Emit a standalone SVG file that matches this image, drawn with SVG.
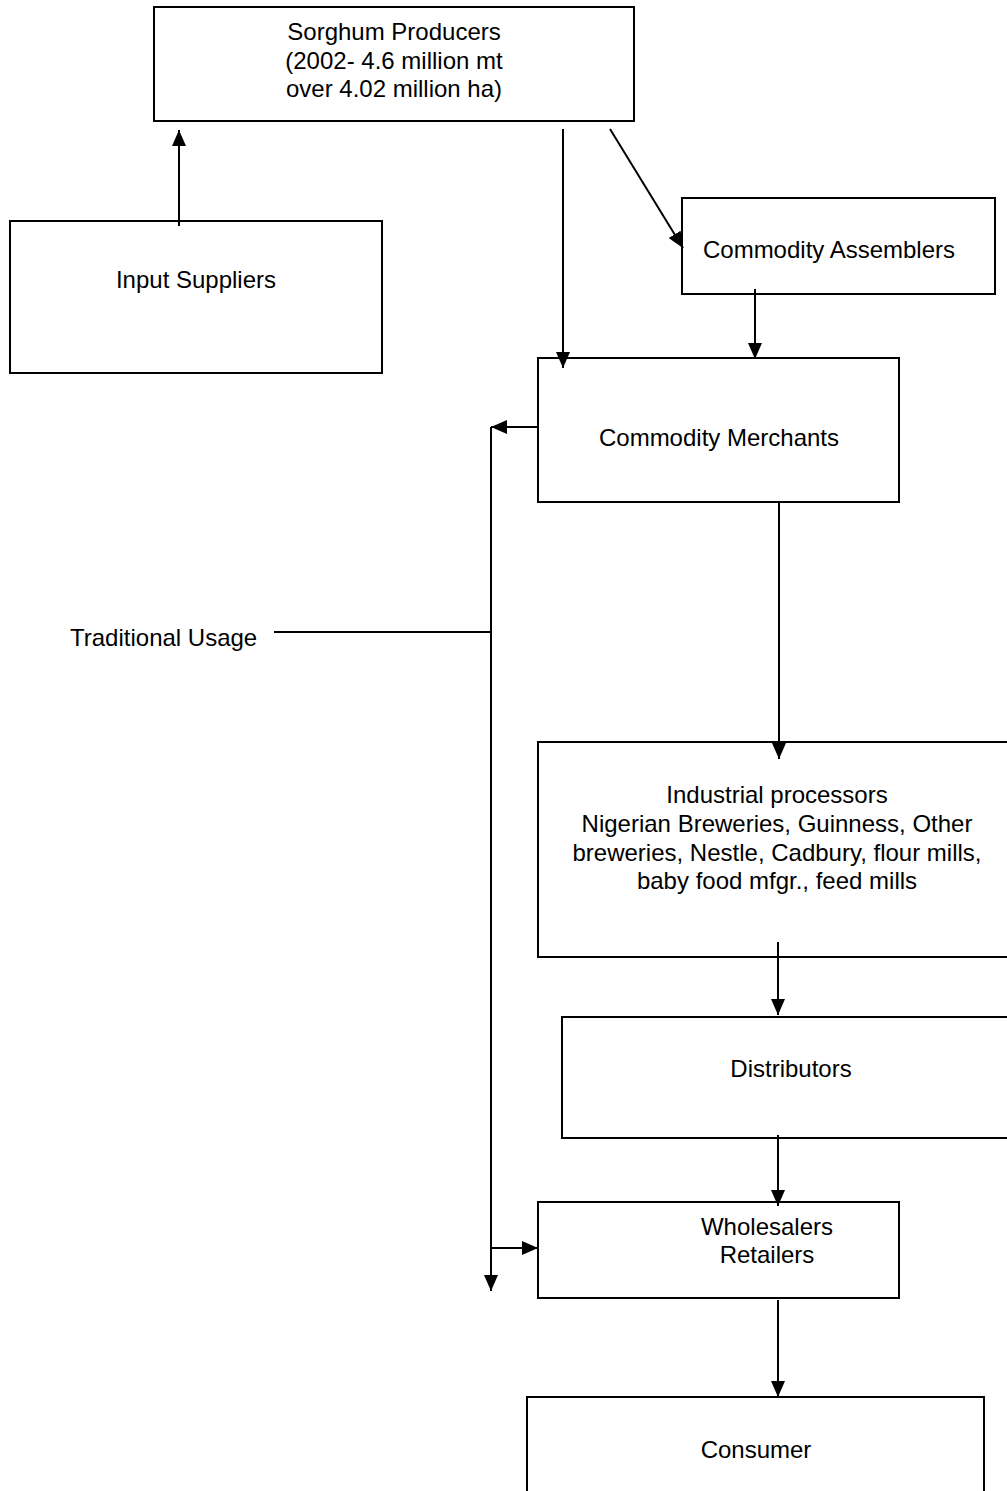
<svg xmlns="http://www.w3.org/2000/svg" width="1007" height="1491" viewBox="0 0 1007 1491">
  <style>
    .box { fill: #ffffff; stroke: #000000; stroke-width: 2; }
    .lbl { font-family: "Liberation Sans", Arial, sans-serif; font-size: 24px; fill: #000000; text-anchor: middle; }
    .wire { stroke: #000000; stroke-width: 2; fill: none; }
    .arrow { marker-end: url(#head); }
  </style>
  <defs>
    <marker id="head" markerUnits="userSpaceOnUse" markerWidth="16" markerHeight="14" refX="16" refY="7" orient="auto">
      <path d="M0,0 L16,7 L0,14 z" fill="#000000"/>
    </marker>
  </defs>
  <rect width="1007" height="1491" fill="#ffffff"/>

  <!-- nodes -->
  <g id="sorghum-producers">
    <rect class="box" x="154" y="7" width="480" height="114"/>
    <text class="lbl" x="394" y="40">Sorghum Producers</text>
    <text class="lbl" x="394" y="69">(2002- 4.6 million mt</text>
    <text class="lbl" x="394" y="97">over 4.02 million ha)</text>
  </g>
  <g id="input-suppliers">
    <rect class="box" x="10" y="221" width="372" height="152"/>
    <text class="lbl" x="196" y="288">Input Suppliers</text>
  </g>
  <g id="commodity-assemblers">
    <rect class="box" x="682" y="198" width="313" height="96"/>
    <text class="lbl" x="829" y="258">Commodity Assemblers</text>
  </g>
  <g id="commodity-merchants">
    <rect class="box" x="538" y="358" width="361" height="144"/>
    <text class="lbl" x="719" y="446">Commodity Merchants</text>
  </g>
  <g id="traditional-usage">
    <text x="70" y="646" style="font-family: 'Liberation Sans', Arial, sans-serif; font-size: 24px;">Traditional Usage</text>
  </g>
  <g id="industrial-processors">
    <rect class="box" x="538" y="742" width="480" height="215"/>
    <text class="lbl" x="777" y="803">Industrial processors</text>
    <text class="lbl" x="777" y="832">Nigerian Breweries, Guinness, Other</text>
    <text class="lbl" x="777" y="861">breweries, Nestle, Cadbury, flour mills,</text>
    <text class="lbl" x="777" y="889">baby food mfgr., feed mills</text>
  </g>
  <g id="distributors">
    <rect class="box" x="562" y="1017" width="460" height="121"/>
    <text class="lbl" x="791" y="1077">Distributors</text>
  </g>
  <g id="wholesalers-retailers">
    <rect class="box" x="538" y="1202" width="361" height="96"/>
    <text class="lbl" x="767" y="1235">Wholesalers</text>
    <text class="lbl" x="767" y="1263">Retailers</text>
  </g>
  <g id="consumer">
    <rect class="box" x="527" y="1397" width="457" height="110"/>
    <text class="lbl" x="756" y="1458">Consumer</text>
  </g>

  <!-- connectors -->
  <g id="connectors">
    <line class="wire arrow" x1="179" y1="226" x2="179" y2="130"/>
    <line class="wire arrow" x1="563" y1="129" x2="563" y2="368"/>
    <line class="wire arrow" x1="610" y1="129" x2="683" y2="248"/>
    <line class="wire arrow" x1="755" y1="289" x2="755" y2="359"/>
    <line class="wire arrow" x1="538" y1="427" x2="491" y2="427"/>
    <line class="wire arrow" x1="491" y1="427" x2="491" y2="1291"/>
    <line class="wire" x1="274" y1="632" x2="491" y2="632"/>
    <line class="wire arrow" x1="491" y1="1248" x2="538" y2="1248"/>
    <line class="wire arrow" x1="779" y1="502" x2="779" y2="759"/>
    <line class="wire arrow" x1="778" y1="942" x2="778" y2="1015"/>
    <line class="wire arrow" x1="778" y1="1135" x2="778" y2="1206"/>
    <line class="wire arrow" x1="778" y1="1300" x2="778" y2="1397"/>
  </g>
</svg>
